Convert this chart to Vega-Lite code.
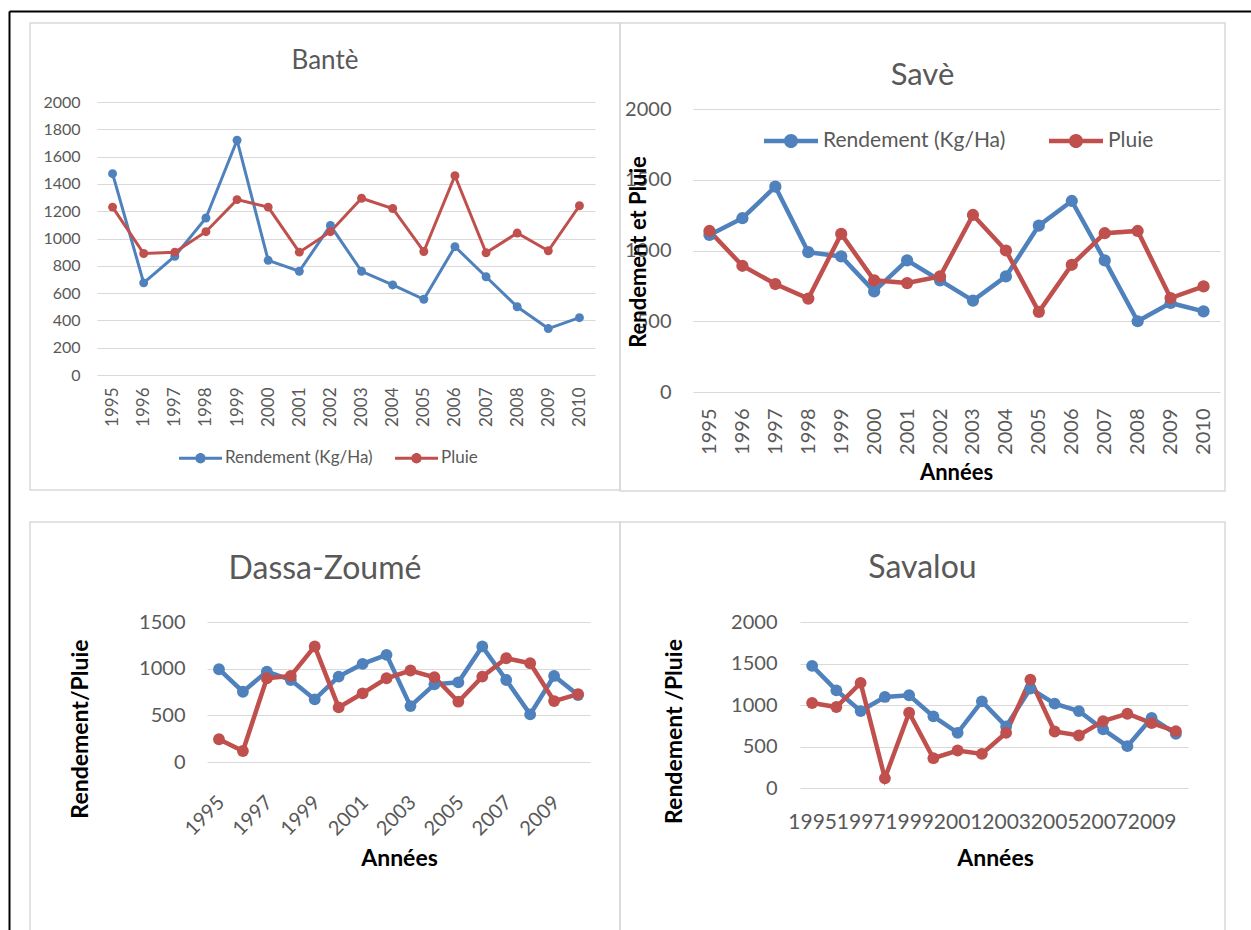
{
  "$schema": "https://vega.github.io/schema/vega-lite/v6.json",
  "background": "white",
  "padding": {"left": 8, "top": 10, "right": 0, "bottom": 0},
  "datasets": {
    "d": [
      {"site": "Bantè", "year": 1995, "serie": "Rendement (Kg/Ha)", "value": 1475},
      {"site": "Bantè", "year": 1996, "serie": "Rendement (Kg/Ha)", "value": 675},
      {"site": "Bantè", "year": 1997, "serie": "Rendement (Kg/Ha)", "value": 870},
      {"site": "Bantè", "year": 1998, "serie": "Rendement (Kg/Ha)", "value": 1150},
      {"site": "Bantè", "year": 1999, "serie": "Rendement (Kg/Ha)", "value": 1720},
      {"site": "Bantè", "year": 2000, "serie": "Rendement (Kg/Ha)", "value": 840},
      {"site": "Bantè", "year": 2001, "serie": "Rendement (Kg/Ha)", "value": 760},
      {"site": "Bantè", "year": 2002, "serie": "Rendement (Kg/Ha)", "value": 1095},
      {"site": "Bantè", "year": 2003, "serie": "Rendement (Kg/Ha)", "value": 760},
      {"site": "Bantè", "year": 2004, "serie": "Rendement (Kg/Ha)", "value": 660},
      {"site": "Bantè", "year": 2005, "serie": "Rendement (Kg/Ha)", "value": 555},
      {"site": "Bantè", "year": 2006, "serie": "Rendement (Kg/Ha)", "value": 940},
      {"site": "Bantè", "year": 2007, "serie": "Rendement (Kg/Ha)", "value": 720},
      {"site": "Bantè", "year": 2008, "serie": "Rendement (Kg/Ha)", "value": 500},
      {"site": "Bantè", "year": 2009, "serie": "Rendement (Kg/Ha)", "value": 340},
      {"site": "Bantè", "year": 2010, "serie": "Rendement (Kg/Ha)", "value": 420},
      {"site": "Bantè", "year": 1995, "serie": "Pluie", "value": 1230},
      {"site": "Bantè", "year": 1996, "serie": "Pluie", "value": 890},
      {"site": "Bantè", "year": 1997, "serie": "Pluie", "value": 900},
      {"site": "Bantè", "year": 1998, "serie": "Pluie", "value": 1050},
      {"site": "Bantè", "year": 1999, "serie": "Pluie", "value": 1285},
      {"site": "Bantè", "year": 2000, "serie": "Pluie", "value": 1230},
      {"site": "Bantè", "year": 2001, "serie": "Pluie", "value": 900},
      {"site": "Bantè", "year": 2002, "serie": "Pluie", "value": 1050},
      {"site": "Bantè", "year": 2003, "serie": "Pluie", "value": 1295},
      {"site": "Bantè", "year": 2004, "serie": "Pluie", "value": 1220},
      {"site": "Bantè", "year": 2005, "serie": "Pluie", "value": 905},
      {"site": "Bantè", "year": 2006, "serie": "Pluie", "value": 1460},
      {"site": "Bantè", "year": 2007, "serie": "Pluie", "value": 895},
      {"site": "Bantè", "year": 2008, "serie": "Pluie", "value": 1040},
      {"site": "Bantè", "year": 2009, "serie": "Pluie", "value": 910},
      {"site": "Bantè", "year": 2010, "serie": "Pluie", "value": 1240},
      {"site": "Savè", "year": 1995, "serie": "Rendement (Kg/Ha)", "value": 1110},
      {"site": "Savè", "year": 1996, "serie": "Rendement (Kg/Ha)", "value": 1228},
      {"site": "Savè", "year": 1997, "serie": "Rendement (Kg/Ha)", "value": 1451},
      {"site": "Savè", "year": 1998, "serie": "Rendement (Kg/Ha)", "value": 988},
      {"site": "Savè", "year": 1999, "serie": "Rendement (Kg/Ha)", "value": 958},
      {"site": "Savè", "year": 2000, "serie": "Rendement (Kg/Ha)", "value": 711},
      {"site": "Savè", "year": 2001, "serie": "Rendement (Kg/Ha)", "value": 930},
      {"site": "Savè", "year": 2002, "serie": "Rendement (Kg/Ha)", "value": 789},
      {"site": "Savè", "year": 2003, "serie": "Rendement (Kg/Ha)", "value": 646},
      {"site": "Savè", "year": 2004, "serie": "Rendement (Kg/Ha)", "value": 817},
      {"site": "Savè", "year": 2005, "serie": "Rendement (Kg/Ha)", "value": 1176},
      {"site": "Savè", "year": 2006, "serie": "Rendement (Kg/Ha)", "value": 1350},
      {"site": "Savè", "year": 2007, "serie": "Rendement (Kg/Ha)", "value": 930},
      {"site": "Savè", "year": 2008, "serie": "Rendement (Kg/Ha)", "value": 500},
      {"site": "Savè", "year": 2009, "serie": "Rendement (Kg/Ha)", "value": 629},
      {"site": "Savè", "year": 2010, "serie": "Rendement (Kg/Ha)", "value": 570},
      {"site": "Savè", "year": 1995, "serie": "Pluie", "value": 1138},
      {"site": "Savè", "year": 1996, "serie": "Pluie", "value": 892},
      {"site": "Savè", "year": 1997, "serie": "Pluie", "value": 763},
      {"site": "Savè", "year": 1998, "serie": "Pluie", "value": 660},
      {"site": "Savè", "year": 1999, "serie": "Pluie", "value": 1117},
      {"site": "Savè", "year": 2000, "serie": "Pluie", "value": 789},
      {"site": "Savè", "year": 2001, "serie": "Pluie", "value": 770},
      {"site": "Savè", "year": 2002, "serie": "Pluie", "value": 817},
      {"site": "Savè", "year": 2003, "serie": "Pluie", "value": 1251},
      {"site": "Savè", "year": 2004, "serie": "Pluie", "value": 1000},
      {"site": "Savè", "year": 2005, "serie": "Pluie", "value": 566},
      {"site": "Savè", "year": 2006, "serie": "Pluie", "value": 899},
      {"site": "Savè", "year": 2007, "serie": "Pluie", "value": 1122},
      {"site": "Savè", "year": 2008, "serie": "Pluie", "value": 1138},
      {"site": "Savè", "year": 2009, "serie": "Pluie", "value": 664},
      {"site": "Savè", "year": 2010, "serie": "Pluie", "value": 746},
      {"site": "Dassa-Zoumé", "year": 1995, "serie": "Rendement (Kg/Ha)", "value": 994},
      {"site": "Dassa-Zoumé", "year": 1996, "serie": "Rendement (Kg/Ha)", "value": 753},
      {"site": "Dassa-Zoumé", "year": 1997, "serie": "Rendement (Kg/Ha)", "value": 969},
      {"site": "Dassa-Zoumé", "year": 1998, "serie": "Rendement (Kg/Ha)", "value": 879},
      {"site": "Dassa-Zoumé", "year": 1999, "serie": "Rendement (Kg/Ha)", "value": 671},
      {"site": "Dassa-Zoumé", "year": 2000, "serie": "Rendement (Kg/Ha)", "value": 915},
      {"site": "Dassa-Zoumé", "year": 2001, "serie": "Rendement (Kg/Ha)", "value": 1051},
      {"site": "Dassa-Zoumé", "year": 2002, "serie": "Rendement (Kg/Ha)", "value": 1148},
      {"site": "Dassa-Zoumé", "year": 2003, "serie": "Rendement (Kg/Ha)", "value": 599},
      {"site": "Dassa-Zoumé", "year": 2004, "serie": "Rendement (Kg/Ha)", "value": 832},
      {"site": "Dassa-Zoumé", "year": 2005, "serie": "Rendement (Kg/Ha)", "value": 854},
      {"site": "Dassa-Zoumé", "year": 2006, "serie": "Rendement (Kg/Ha)", "value": 1238},
      {"site": "Dassa-Zoumé", "year": 2007, "serie": "Rendement (Kg/Ha)", "value": 879},
      {"site": "Dassa-Zoumé", "year": 2008, "serie": "Rendement (Kg/Ha)", "value": 510},
      {"site": "Dassa-Zoumé", "year": 2009, "serie": "Rendement (Kg/Ha)", "value": 922},
      {"site": "Dassa-Zoumé", "year": 2010, "serie": "Rendement (Kg/Ha)", "value": 718},
      {"site": "Dassa-Zoumé", "year": 1995, "serie": "Pluie", "value": 244},
      {"site": "Dassa-Zoumé", "year": 1996, "serie": "Pluie", "value": 118},
      {"site": "Dassa-Zoumé", "year": 1997, "serie": "Pluie", "value": 897},
      {"site": "Dassa-Zoumé", "year": 1998, "serie": "Pluie", "value": 922},
      {"site": "Dassa-Zoumé", "year": 1999, "serie": "Pluie", "value": 1238},
      {"site": "Dassa-Zoumé", "year": 2000, "serie": "Pluie", "value": 585},
      {"site": "Dassa-Zoumé", "year": 2001, "serie": "Pluie", "value": 736},
      {"site": "Dassa-Zoumé", "year": 2002, "serie": "Pluie", "value": 897},
      {"site": "Dassa-Zoumé", "year": 2003, "serie": "Pluie", "value": 980},
      {"site": "Dassa-Zoumé", "year": 2004, "serie": "Pluie", "value": 908},
      {"site": "Dassa-Zoumé", "year": 2005, "serie": "Pluie", "value": 646},
      {"site": "Dassa-Zoumé", "year": 2006, "serie": "Pluie", "value": 915},
      {"site": "Dassa-Zoumé", "year": 2007, "serie": "Pluie", "value": 1112},
      {"site": "Dassa-Zoumé", "year": 2008, "serie": "Pluie", "value": 1058},
      {"site": "Dassa-Zoumé", "year": 2009, "serie": "Pluie", "value": 653},
      {"site": "Dassa-Zoumé", "year": 2010, "serie": "Pluie", "value": 728},
      {"site": "Savalou", "year": 1995, "serie": "Rendement (Kg/Ha)", "value": 1472},
      {"site": "Savalou", "year": 1996, "serie": "Rendement (Kg/Ha)", "value": 1177},
      {"site": "Savalou", "year": 1997, "serie": "Rendement (Kg/Ha)", "value": 927},
      {"site": "Savalou", "year": 1998, "serie": "Rendement (Kg/Ha)", "value": 1097},
      {"site": "Savalou", "year": 1999, "serie": "Rendement (Kg/Ha)", "value": 1117},
      {"site": "Savalou", "year": 2000, "serie": "Rendement (Kg/Ha)", "value": 863},
      {"site": "Savalou", "year": 2001, "serie": "Rendement (Kg/Ha)", "value": 665},
      {"site": "Savalou", "year": 2002, "serie": "Rendement (Kg/Ha)", "value": 1044},
      {"site": "Savalou", "year": 2003, "serie": "Rendement (Kg/Ha)", "value": 742},
      {"site": "Savalou", "year": 2004, "serie": "Rendement (Kg/Ha)", "value": 1198},
      {"site": "Savalou", "year": 2005, "serie": "Rendement (Kg/Ha)", "value": 1016},
      {"site": "Savalou", "year": 2006, "serie": "Rendement (Kg/Ha)", "value": 927},
      {"site": "Savalou", "year": 2007, "serie": "Rendement (Kg/Ha)", "value": 706},
      {"site": "Savalou", "year": 2008, "serie": "Rendement (Kg/Ha)", "value": 504},
      {"site": "Savalou", "year": 2009, "serie": "Rendement (Kg/Ha)", "value": 843},
      {"site": "Savalou", "year": 2010, "serie": "Rendement (Kg/Ha)", "value": 653},
      {"site": "Savalou", "year": 1995, "serie": "Pluie", "value": 1024},
      {"site": "Savalou", "year": 1996, "serie": "Pluie", "value": 976},
      {"site": "Savalou", "year": 1997, "serie": "Pluie", "value": 1266},
      {"site": "Savalou", "year": 1998, "serie": "Pluie", "value": 117},
      {"site": "Savalou", "year": 1999, "serie": "Pluie", "value": 907},
      {"site": "Savalou", "year": 2000, "serie": "Pluie", "value": 359},
      {"site": "Savalou", "year": 2001, "serie": "Pluie", "value": 452},
      {"site": "Savalou", "year": 2002, "serie": "Pluie", "value": 411},
      {"site": "Savalou", "year": 2003, "serie": "Pluie", "value": 665},
      {"site": "Savalou", "year": 2004, "serie": "Pluie", "value": 1306},
      {"site": "Savalou", "year": 2005, "serie": "Pluie", "value": 681},
      {"site": "Savalou", "year": 2006, "serie": "Pluie", "value": 633},
      {"site": "Savalou", "year": 2007, "serie": "Pluie", "value": 806},
      {"site": "Savalou", "year": 2008, "serie": "Pluie", "value": 895},
      {"site": "Savalou", "year": 2009, "serie": "Pluie", "value": 782},
      {"site": "Savalou", "year": 2010, "serie": "Pluie", "value": 685}
    ]
  },
  "data": {"name": "d"},
  "columns": 2,
  "align": "none",
  "bounds": "flush",
  "spacing": {"row": 31, "column": 0},
  "resolve": {"scale": {"color": "independent"}, "legend": {"color": "independent"}},
  "concat": [
    {
      "width": 590,
      "height": 467,
      "transform": [{"filter": "datum.site === 'Bantè'"}],
      "title": {"text": "Bantè", "fontSize": 26, "offset": -62.5},
      "resolve": {"scale": {"x": "independent", "y": "independent"}, "axis": {"x": "independent", "y": "independent"}},
      "layer": [
        {
          "encoding": {
            "x": {"field": "year", "type": "ordinal",
              "scale": {"type": "point", "range": [67, 565], "padding": 0.5},
              "axis": {"offset": -115, "labelAngle": -90, "labelFontSize": 17, "labelPadding": 12, "title": null, "labelOverlap": false, "grid": false}},
            "y": {"field": "value", "type": "quantitative",
              "scale": {"domain": [0, 2000], "range": [352, 79], "nice": false},
              "axis": {"orient": "left", "offset": -67, "format": "d", "values": [0, 200, 400, 600, 800, 1000, 1200, 1400, 1600, 1800, 2000], "labelFontSize": 16, "labelPadding": 17, "title": null, "grid": true}},
            "color": {"field": "serie", "type": "nominal",
              "scale": {"domain": ["Rendement (Kg/Ha)", "Pluie"], "range": ["#4F81BD", "#C0504D"]},
              "legend": {"orient": "none", "legendX": 149, "legendY": 413.5, "direction": "horizontal", "title": null, "labelFontSize": 17, "labelColor": "#595959", "labelLimit": 400, "columnPadding": 22, "labelOffset": 3, "padding": 0,
                "symbolType": "M-1,-0.07H1V0.07H-1Z M0.24,0 A0.24,0.24 0 1,1 -0.24,0 A0.24,0.24 0 1,1 0.24,0Z",
                "symbolSize": 1849, "symbolStrokeWidth": 0, "symbolOpacity": 1}}
          },
          "layer": [
            {"mark": {"type": "line", "strokeWidth": 3}},
            {"mark": {"type": "point", "filled": true, "size": 80, "opacity": 1}}
          ]
        },
        {
          "transform": [{"filter": "datum.value < 0"}],
          "mark": {"type": "point", "opacity": 0},
          "encoding": {
            "x": {"field": "value", "type": "quantitative",
              "scale": {"domain": [0, 1], "range": [-21, 1221], "nice": false, "zero": false},
              "axis": {"orient": "top", "offset": 12, "domain": true, "domainColor": "#000000", "domainWidth": 2, "labels": false, "ticks": false, "grid": false, "title": null}},
            "y": {"field": "value", "type": "quantitative",
              "scale": {"domain": [0, 1], "range": [907, -12], "nice": false, "zero": false},
              "axis": {"orient": "left", "offset": 21, "domain": true, "domainColor": "#000000", "domainWidth": 2, "labels": false, "ticks": false, "grid": false, "title": null}}
          }
        }
      ]
    },
    {
      "width": 605,
      "height": 468,
      "transform": [{"filter": "datum.site === 'Savè'"}],
      "title": {"text": "Savè", "fontSize": 31, "offset": -68.5},
      "encoding": {
        "x": {"field": "year", "type": "ordinal",
          "scale": {"type": "point", "range": [73, 600], "padding": 0.5},
          "axis": {"offset": -99, "labelAngle": -90, "labelFontSize": 20, "labelPadding": 16, "labelOverlap": false, "grid": false,
            "title": "Années", "titleFontSize": 22, "titleX": 336, "titleY": 80, "titleAngle": 0, "titleAlign": "center", "titleBaseline": "middle"}},
        "y": {"field": "value", "type": "quantitative",
          "scale": {"domain": [0, 2000], "range": [369, 86], "nice": false},
          "axis": {"offset": -73, "format": "d", "values": [0, 500, 1000, 1500, 2000], "labelFontSize": 20, "labelPadding": 22, "grid": true,
            "title": "Rendement et Pluie", "titleFontSize": 22, "titleX": -55, "titleY": 228.5, "titleAngle": -90, "titleAlign": "center", "titleBaseline": "middle"}},
        "color": {"field": "serie", "type": "nominal",
          "scale": {"domain": ["Rendement (Kg/Ha)", "Pluie"], "range": ["#4F81BD", "#C0504D"]},
          "legend": {"orient": "none", "legendX": 144, "legendY": 91, "direction": "horizontal", "title": null, "labelFontSize": 21, "labelColor": "#595959", "labelLimit": 400, "columnPadding": 43, "labelOffset": 5, "padding": 0,
            "symbolType": "M-1,-0.083H1V0.083H-1Z M0.26,0 A0.26,0.26 0 1,1 -0.26,0 A0.26,0.26 0 1,1 0.26,0Z",
            "symbolSize": 2916, "symbolStrokeWidth": 0, "symbolOpacity": 1}}
      },
      "layer": [
        {"mark": {"type": "line", "strokeWidth": 4.5}},
        {"mark": {"type": "point", "filled": true, "size": 150, "opacity": 1}}
      ]
    },
    {
      "width": 590,
      "height": 420,
      "transform": [{"filter": "datum.site === 'Dassa-Zoumé'"}],
      "title": {"text": "Dassa-Zoumé", "fontSize": 32, "offset": -64},
      "encoding": {
        "x": {"field": "year", "type": "ordinal",
          "scale": {"type": "point", "range": [177, 560], "padding": 0.5},
          "axis": {"offset": -180, "labelAngle": -45, "labelFontSize": 20, "labelPadding": 30, "labelOffset": -5, "labelOverlap": false, "grid": false,
            "values": [1995, 1997, 1999, 2001, 2003, 2005, 2007, 2009],
            "title": "Années", "titleFontSize": 23, "titleX": 369, "titleY": 96, "titleAngle": 0, "titleAlign": "center", "titleBaseline": "middle"}},
        "y": {"field": "value", "type": "quantitative",
          "scale": {"domain": [0, 1500], "range": [240, 100], "nice": false},
          "axis": {"offset": -177, "format": "d", "values": [0, 500, 1000, 1500], "labelFontSize": 20, "labelPadding": 22, "grid": true,
            "title": "Rendement/Pluie", "titleFontSize": 23, "titleX": -126.5, "titleY": 206.5, "titleAngle": -90, "titleAlign": "center", "titleBaseline": "middle"}},
        "color": {"field": "serie", "type": "nominal",
          "scale": {"domain": ["Rendement (Kg/Ha)", "Pluie"], "range": ["#4F81BD", "#C0504D"]},
          "legend": null}
      },
      "layer": [
        {"mark": {"type": "line", "strokeWidth": 4.5}},
        {"mark": {"type": "point", "filled": true, "size": 140, "opacity": 1}}
      ]
    },
    {
      "width": 605,
      "height": 420,
      "transform": [{"filter": "datum.site === 'Savalou'"}],
      "title": {"text": "Savalou", "fontSize": 32, "offset": -63},
      "encoding": {
        "x": {"field": "year", "type": "ordinal",
          "scale": {"type": "point", "range": [180, 568], "padding": 0.5},
          "axis": {"offset": -154, "labelAngle": 0, "labelFontSize": 21, "labelPadding": 23, "labelOverlap": false, "grid": false,
            "values": [1995, 1997, 1999, 2001, 2003, 2005, 2007, 2009],
            "title": "Années", "titleFontSize": 23, "titleX": 375, "titleY": 70, "titleAngle": 0, "titleAlign": "center", "titleBaseline": "middle"}},
        "y": {"field": "value", "type": "quantitative",
          "scale": {"domain": [0, 2000], "range": [266, 100], "nice": false},
          "axis": {"offset": -180, "format": "d", "values": [0, 500, 1000, 1500, 2000], "labelFontSize": 20, "labelPadding": 23, "grid": true,
            "title": "Rendement /Pluie", "titleFontSize": 23, "titleX": -125.5, "titleY": 209, "titleAngle": -90, "titleAlign": "center", "titleBaseline": "middle"}},
        "color": {"field": "serie", "type": "nominal",
          "scale": {"domain": ["Rendement (Kg/Ha)", "Pluie"], "range": ["#4F81BD", "#C0504D"]},
          "legend": null}
      },
      "layer": [
        {"mark": {"type": "line", "strokeWidth": 4.5}},
        {"mark": {"type": "point", "filled": true, "size": 140, "opacity": 1}}
      ]
    }
  ],
  "config": {
    "font": "Lato",
    "view": {"stroke": "#d9d9d9", "strokeWidth": 1.5},
    "axis": {"domain": false, "ticks": false, "gridColor": "#d9d9d9", "gridWidth": 1, "labelColor": "#595959", "titleColor": "#000000", "titleFontWeight": "bold", "labelFont": "Lato", "titleFont": "Lato"},
    "title": {"color": "#595959", "fontWeight": "normal", "anchor": "middle", "frame": "group", "baseline": "middle", "font": "Lato"},
    "legend": {"labelFont": "Lato"}
  }
}
